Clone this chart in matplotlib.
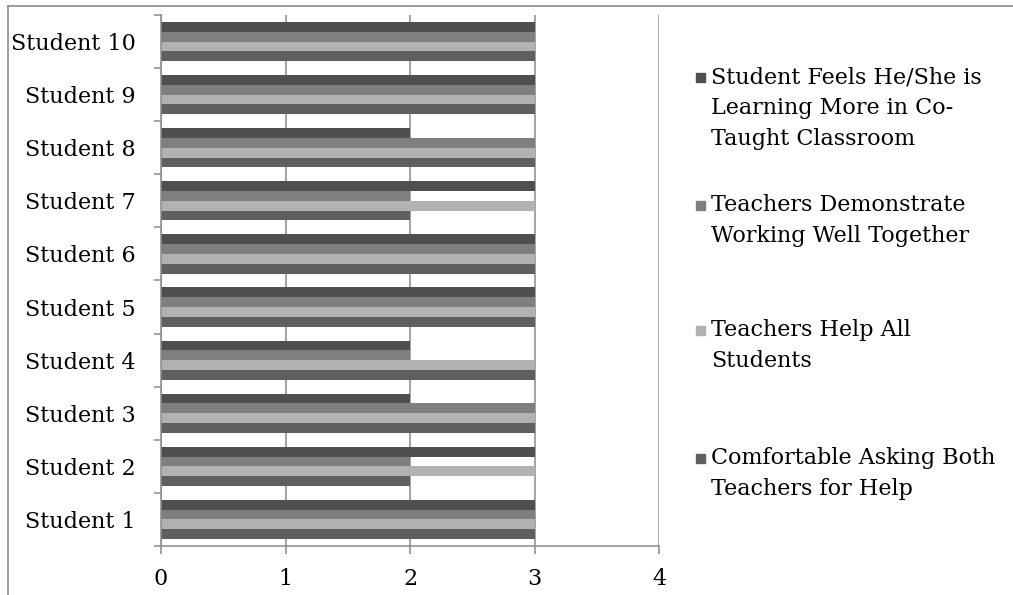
import numpy as np
from matplotlib import pyplot as plt
from matplotlib.patches import Rectangle
from matplotlib.lines import Line2D

# survey answers, Student 1 .. Student 10
students = [f"Student {i}" for i in range(1, 11)]
comfortable = [3, 2, 3, 3, 3, 3, 2, 3, 3, 3]
help_all = [3, 3, 3, 3, 3, 3, 3, 3, 3, 3]
demonstrate = [3, 2, 3, 2, 3, 3, 2, 3, 3, 3]
feels = [3, 3, 2, 2, 3, 3, 3, 2, 3, 3]

series_names = [
    "Comfortable Asking Both\nTeachers for Help",
    "Teachers Help All\nStudents",
    "Teachers Demonstrate\nWorking Well Together",
    "Student Feels He/She is\nLearning More in Co-\nTaught Classroom",
]
series_vals = [comfortable, help_all, demonstrate, feels]
series_cols = ["#5f5f5f", "#b2b2b2", "#7f7f7f", "#4f4f4f"]
x_ticks = [0, 1, 2, 3, 4]

W, H = 1013, 595
grey = "#8a8a8a"
plt.rcParams['font.family'] = ['DejaVu Serif']
plt.rcParams['font.size'] = 16

fig = plt.figure(figsize=(W / 100, H / 100), dpi=100)

# outer chart frame (only top and left edges show)
fig.add_artist(Line2D([8 / W, 1.01], [1 - 6 / H, 1 - 6 / H], transform=fig.transFigure,
                      color=grey, lw=1.2))
fig.add_artist(Line2D([8 / W, 8 / W], [-0.01, 1 - 6 / H], transform=fig.transFigure,
                      color=grey, lw=1.2))

ax = fig.add_axes([161 / W, 1 - 546 / H, (659 - 161) / W, (546 - 15) / H])

y = np.arange(len(students))
h = 0.185
for k, (vals, col) in enumerate(zip(series_vals, series_cols)):
    ax.barh(y + (k - 1.5) * h, vals, height=h, color=col, edgecolor='none', zorder=2)

ax.set_xlim(0, 4)
ax.set_ylim(-0.5, len(students) - 0.5)
ax.set_xticks(x_ticks)
ax.set_xticklabels([str(t) for t in x_ticks])
ax.set_yticks(np.arange(-0.5, len(students), 1.0))
ax.set_yticklabels([])
ax.set_yticks(y, minor=True)
ax.set_yticklabels(students, minor=True)

ax.grid(axis='x', color=grey, lw=1.1, zorder=0)
ax.set_axisbelow(True)
for s in ['top', 'right']:
    ax.spines[s].set_visible(False)
for s in ['left', 'bottom']:
    ax.spines[s].set_color(grey)
    ax.spines[s].set_linewidth(1.1)

ax.tick_params(axis='x', direction='out', length=6, width=1.1, color=grey, pad=10)
ax.tick_params(axis='y', which='major', direction='out', length=5, width=1.1, color=grey)
ax.tick_params(axis='y', which='minor', length=0, pad=18)

# legend, drawn from the top entry down
first_line = [458, 330, 205, 77]
for name, col, y0 in zip(series_names, series_cols, first_line):
    fig.add_artist(Rectangle((696 / W, 1 - (y0 + 5) / H), 9 / W, 9 / H,
                             transform=fig.transFigure, color=col))
    for i, line in enumerate(name.split("\n")):
        fig.text(711 / W, 1 - (y0 + i * 31) / H, line, ha='left', va='center')

fig.savefig("out.png", dpi=100)
